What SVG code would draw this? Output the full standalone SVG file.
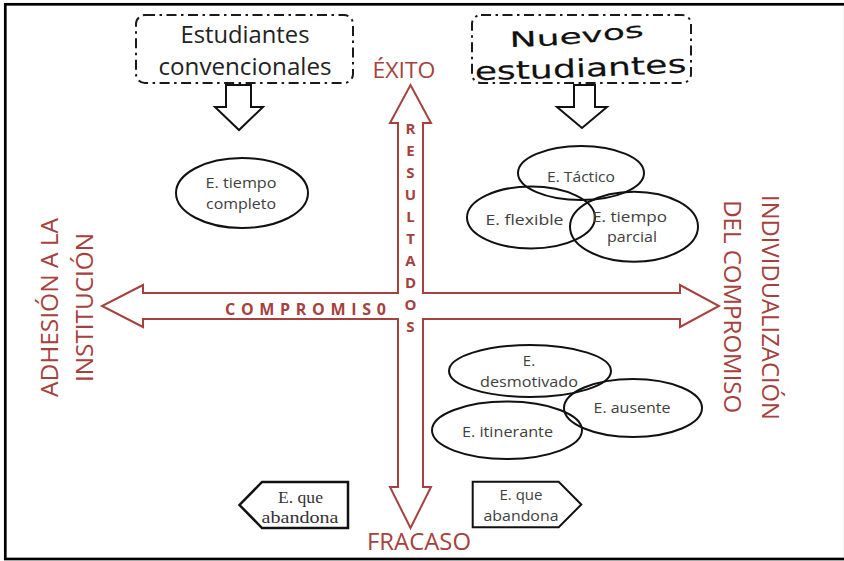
<svg xmlns="http://www.w3.org/2000/svg" width="844" height="561" viewBox="0 0 844 561">
<defs>
<style>
.red{fill:#a6413e;font-family:"Open Sans","Noto Sans",sans-serif}
.box{fill:none;stroke:#1a1a1a;stroke-width:2;stroke-dasharray:10 4.5 2.5 4.5}
.blk{fill:#fff;stroke:#111;stroke-width:2}
.ell{fill:none;stroke:#111;stroke-width:2}
.lbl{fill:#404040;font-family:"Open Sans","Noto Sans",sans-serif;font-size:15px;text-anchor:middle}
.big{fill:#222;font-family:"Open Sans","Noto Sans",sans-serif;font-size:24px;text-anchor:middle}
.res{fill:#a6413e;font-family:"Open Sans","Noto Sans",sans-serif;font-size:15px;font-weight:bold;text-anchor:middle}
.wa{fill:#111;stroke:#111;stroke-width:0.15;font-family:"DejaVu Sans",Verdana,sans-serif}
</style>
<path id="pN" d="M 510 47 Q 570 46 647 36"/>
<path id="pE" d="M 475 80 Q 580 78 689 72"/>
</defs>
<rect x="5.3" y="4.3" width="840" height="554.7" fill="#fff" stroke="#000" stroke-width="2.7"/>

<g id="connectors">
<polygon id="cross-arrow" points="410.5,85 431,123 423,123 423,293 680,293 680,285 719,306 680,327 680,319 423,319 423,487 431,487 410.5,528 390,487 398,487 398,319 143,319 143,327 102,306 143,285 143,293 398,293 398,123 390,123" fill="#fff" stroke="#a6413e" stroke-width="2"/>
<polygon points="226,85 251,85 251,107 263,107 239,130 215,107 226,107" class="blk"/>
<polygon points="574,85 595,85 595,107 607,107 582,128 557,107 574,107" class="blk"/>
</g>

<g id="axis-labels">
<text class="red" x="372.5" y="78.3" font-size="22" textLength="63" lengthAdjust="spacingAndGlyphs">ÉXITO</text>
<text class="red" x="367" y="550" font-size="23" textLength="104" lengthAdjust="spacingAndGlyphs">FRACASO</text>
<text class="red" x="225" y="315" font-size="16" font-weight="bold" textLength="161" lengthAdjust="spacing">COMPROMIS0</text>
<g class="res">
<text x="410.5" y="134">R</text>
<text x="410.5" y="156">E</text>
<text x="410.5" y="178">S</text>
<text x="410.5" y="200">U</text>
<text x="410.5" y="222">L</text>
<text x="410.5" y="244">T</text>
<text x="410.5" y="266">A</text>
<text x="410.5" y="288">D</text>
<text x="410.5" y="310">O</text>
<text x="410.5" y="332">S</text>
</g>
<text class="red" font-size="24" text-anchor="middle" transform="translate(58.3,307.5) rotate(-90)" textLength="179" lengthAdjust="spacingAndGlyphs">ADHESIÓN A LA</text>
<text class="red" font-size="24" text-anchor="middle" transform="translate(92.5,307.5) rotate(-90)" textLength="149" lengthAdjust="spacingAndGlyphs">INSTITUCIÓN</text>
<text class="red" font-size="24" text-anchor="middle" transform="translate(762,307.5) rotate(90)" textLength="225" lengthAdjust="spacingAndGlyphs">INDIVIDUALIZACIÓN</text>
<text class="red" font-size="24" text-anchor="middle" transform="translate(724,306.7) rotate(90)" textLength="213" lengthAdjust="spacingAndGlyphs">DEL COMPROMISO</text>
</g>

<g id="estudiantes-convencionales">
<rect x="136" y="15" width="217" height="68" rx="9" class="box"/>
<text class="big" x="245" y="42.5" textLength="129" lengthAdjust="spacingAndGlyphs">Estudiantes</text>
<text class="big" x="245" y="75" textLength="173" lengthAdjust="spacingAndGlyphs">convencionales</text>
</g>

<g id="nuevos-estudiantes">
<rect x="472" y="15" width="219" height="68" rx="9" class="box"/>
<text class="wa" font-size="21"><textPath href="#pN" textLength="135" lengthAdjust="spacingAndGlyphs">Nuevos</textPath></text>
<text class="wa" font-size="25"><textPath href="#pE" textLength="212" lengthAdjust="spacingAndGlyphs">estudiantes</textPath></text>
</g>

<g id="e-tiempo-completo">
<ellipse cx="242" cy="193" rx="66" ry="35" class="ell"/>
<text class="lbl" x="241" y="188" textLength="71" lengthAdjust="spacingAndGlyphs">E. tiempo</text>
<text class="lbl" x="241" y="208.5" textLength="70" lengthAdjust="spacingAndGlyphs">completo</text>
</g>

<g id="e-tactico">
<ellipse cx="581" cy="173" rx="63" ry="27" class="ell"/>
<text class="lbl" x="581" y="181.5" font-size="16" textLength="68" lengthAdjust="spacingAndGlyphs">E. Táctico</text>
</g>
<g id="e-flexible">
<ellipse cx="531" cy="217.5" rx="64" ry="31" class="ell"/>
<text class="lbl" x="524.5" y="225" font-size="16" textLength="78" lengthAdjust="spacingAndGlyphs">E. flexible</text>
</g>
<g id="e-tiempo-parcial">
<ellipse cx="634" cy="226.7" rx="64" ry="35" class="ell"/>
<text class="lbl" x="629.5" y="221.7" font-size="16" textLength="75" lengthAdjust="spacingAndGlyphs">E. tiempo</text>
<text class="lbl" x="632" y="241.7" font-size="16" textLength="50" lengthAdjust="spacingAndGlyphs">parcial</text>
</g>

<g id="e-desmotivado">
<ellipse cx="530" cy="371" rx="81" ry="26" class="ell"/>
<text class="lbl" x="529" y="366" font-size="16">E.</text>
<text class="lbl" x="529" y="387.3" font-size="16" textLength="98" lengthAdjust="spacingAndGlyphs">desmotivado</text>
</g>
<g id="e-ausente">
<ellipse cx="633" cy="408" rx="69" ry="29" class="ell"/>
<text class="lbl" x="632" y="413.3" font-size="16" textLength="77" lengthAdjust="spacingAndGlyphs">E. ausente</text>
</g>
<g id="e-itinerante">
<ellipse cx="507" cy="430.3" rx="75" ry="28.7" class="ell"/>
<text class="lbl" x="507.5" y="436.7" font-size="16" textLength="91" lengthAdjust="spacingAndGlyphs">E. itinerante</text>
</g>

<g id="e-que-abandona-izq">
<polygon points="262,482 348,482 348,528 262,528 239.5,505" fill="#fff" stroke="#111" stroke-width="2.5"/>
<text x="300.5" y="502.7" fill="#333" font-family="'Liberation Serif','Times New Roman',serif" font-size="17" text-anchor="middle" textLength="45" lengthAdjust="spacingAndGlyphs">E. que</text>
<text x="300" y="522.7" fill="#333" font-family="'Liberation Serif','Times New Roman',serif" font-size="17" text-anchor="middle" textLength="77" lengthAdjust="spacingAndGlyphs">abandona</text>
</g>
<g id="e-que-abandona-der">
<polygon points="472.7,481.7 558.7,481.7 581.3,504.5 558.7,527.3 472.7,527.3" fill="#fff" stroke="#111" stroke-width="2"/>
<text class="lbl" x="521" y="500" font-size="16" textLength="43" lengthAdjust="spacingAndGlyphs">E. que</text>
<text class="lbl" x="521" y="520.5" font-size="16" textLength="75" lengthAdjust="spacingAndGlyphs">abandona</text>
</g>
</svg>
